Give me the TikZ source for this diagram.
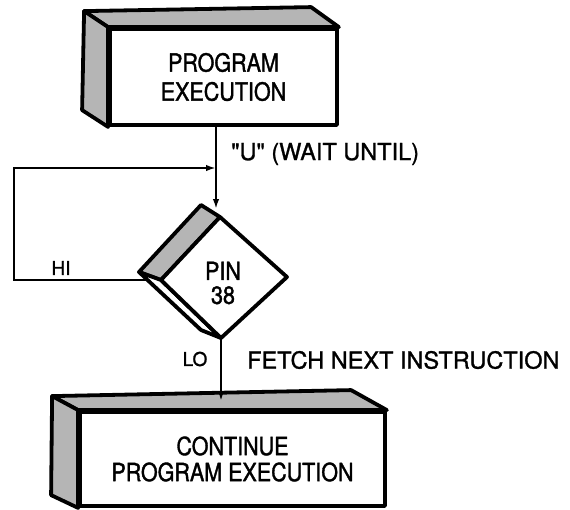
\documentclass[tikz,border=0pt]{standalone}
\usepackage{fontspec}
\setmainfont[FakeBold=1.2,Ligatures=TeXOff]{TeX Gyre Heros}
\newfontfamily\letterfont[FakeStretch=0.86,FakeBold=1.4]{TeX Gyre Heros}
\usetikzlibrary{arrows.meta,calc}
\begin{document}
\begin{tikzpicture}[x=1pt,y=-1pt,
  outline/.style={line width=3.8pt, line join=round, draw=black},
  shade face/.style={outline, fill=gray!58},
  front/.style={outline, fill=white, rectangle, inner sep=0pt, align=center,
    font=\letterfont\fontsize{25}{29}\selectfont},
  conn/.style={line width=2.2pt, draw=black},
  arrowconn/.style={conn, -{Latex[length=10pt,width=6.5pt]}},
  lbl/.style={inner sep=0pt, font=\fontsize{23.5}{28}\selectfont},
  small lbl/.style={inner sep=0pt, font=\fontsize{19}{20}\selectfont}]
\useasboundingbox (0,0) rectangle (570,509);

% ---- first block: PROGRAM EXECUTION ----
\node[front, minimum width=227pt, minimum height=96pt] (prog) at (223.5,77) {PROGRAM\\EXECUTION};
\draw[shade face] (prog.north west) -- ++(-24,-16) -- ++(227,-4) -- (prog.north east) -- cycle;
\draw[shade face] (prog.north west) -- ++(-24,-16) -- ++(-2,99) -- (prog.south west) -- cycle;

% ---- last block: CONTINUE PROGRAM EXECUTION ----
\node[front, minimum width=305pt, minimum height=94pt, font=\letterfont\fontsize{25}{26}\selectfont]
  (cont) at (232.5,459) {CONTINUE\\PROGRAM EXECUTION};
\draw[shade face] (cont.north west) -- ++(-26,-14) -- ++(299,-6) -- (cont.north east) -- cycle;
\draw[shade face] (cont.north west) -- ++(-26,-14) -- ++(-1,99) -- (cont.south west) -- cycle;

% ---- decision slab: PIN 38 ----
\coordinate (ft) at (220,217);
\coordinate (fr) at (287,277);
\coordinate (fb) at (221,338);
\coordinate (fl) at (161,280);
\coordinate (bt) at (201,205);
\coordinate (bl) at (139,272);
\coordinate (bb) at (201,330);
\draw[shade face] (ft) -- (bt) -- (bl) -- (fl) -- cycle;
\draw[outline, fill=white] (fl) -- (bl) -- (bb) -- (fb) -- cycle;
\draw[outline, fill=white] (ft) -- (fr) -- (fb) -- (fl) -- cycle;
\node[inner sep=0pt, align=center, font=\letterfont\fontsize{25}{24}\selectfont] (pin) at (223,283) {PIN\\38};

% ---- connectors ----
\coordinate (dtop) at (216,209);
\coordinate (dleft) at (146,280);
\coordinate (join) at (216,168);
\draw[arrowconn] (prog.south -| dtop) -- (dtop);
\draw[arrowconn] (dleft) -- ++(-132,0) |- (join);
\draw[arrowconn] (fb) -- ([yshift=9pt]cont.north -| fb);

% ---- labels ----
\node[lbl, anchor=west] (waitlbl) at (231,154) {"U" (WAIT UNTIL)};
\node[small lbl] (hi) at (61,268) {HI};
\node[small lbl] (lo) at (195,359) {LO};
\node[lbl, anchor=west] (fetch) at (247,360) {FETCH NEXT INSTRUCTION};
\end{tikzpicture}
\end{document}
